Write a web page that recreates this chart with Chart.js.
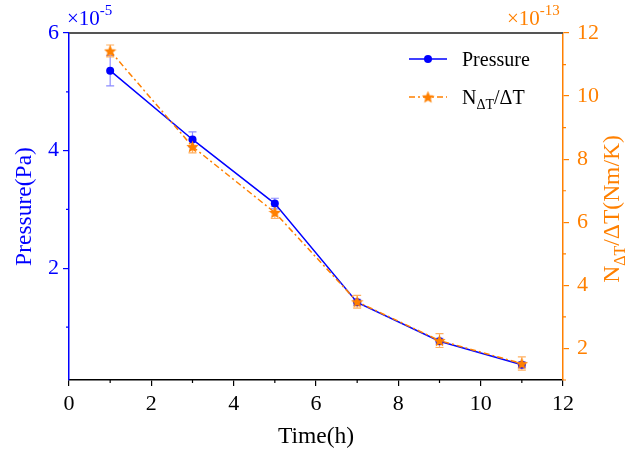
<!DOCTYPE html>
<html lang="en">
<head>
<meta charset="UTF-8">
<title>Pressure and torque rate vs time</title>
<script src="https://cdn.jsdelivr.net/npm/chart.js"></script>
<style>
  body { margin: 0; background: #fff; }
  #wrap { width: 642px; height: 453px; }
</style>
</head>
<body>
<div id="wrap"><canvas id="chart" width="642" height="453"></canvas></div>
<script>
// measurements, Pressure in 1e-5 Pa, torque rate in 1e-13 Nm/K
const timeHours = [1, 3, 5, 7, 9, 11];
const pressure = [5.36, 4.19, 3.10, 1.42, 0.76, 0.36];
const pressureErr = [0.26, 0.13, 0.09, 0.05, 0.05, 0.05];
const torqueRate = [11.43, 8.40, 6.31, 3.48, 2.25, 1.52];
const torqueRateErr = [0.19, 0.20, 0.19, 0.20, 0.22, 0.21];

const xTicks = [0, 2, 4, 6, 8, 10, 12];
const xMinorTicks = [1, 3, 5, 7, 9, 11];
const leftTicks = [2, 4, 6];
const leftMinorTicks = [1, 3, 5];
const rightTicks = [2, 4, 6, 8, 10, 12];
const rightMinorTicks = [1, 3, 5, 7, 9, 11];

const BLUE = '#0000ff';
const ORANGE = '#ff8000';
const FONT = '"Liberation Serif", "Times New Roman", serif';

// filled five point star used as point marker
function makeStar(size, color) {
    const c = document.createElement('canvas');
    c.width = size; c.height = size;
    const g = c.getContext('2d');
    const cx = size / 2, cy = size / 2 + 0.6, R = size / 2, r = R * 0.45;
    g.beginPath();
    for (let i = 0; i < 10; i++) {
        const rad = i % 2 ? r : R;
        const a = -Math.PI / 2 + i * Math.PI / 5;
        g.lineTo(cx + rad * Math.cos(a), cy + rad * Math.sin(a));
    }
    g.closePath();
    g.fillStyle = color;
    g.fill();
    return c;
}
const starMarker = makeStar(13, ORANGE);

// draws a run of text pieces (normal / subscript / superscript) from x
function drawRuns(ctx, x, y, runs, color) {
    ctx.fillStyle = color;
    ctx.textBaseline = 'alphabetic';
    ctx.textAlign = 'left';
    runs.forEach(r => {
        ctx.font = r.size + 'px ' + FONT;
        ctx.fillText(r.t, x, y + (r.dy || 0));
        x += ctx.measureText(r.t).width;
    });
}
function runsWidth(ctx, runs) {
    let w = 0;
    runs.forEach(r => {
        ctx.font = r.size + 'px ' + FONT;
        w += ctx.measureText(r.t).width;
    });
    return w;
}

const errorBars = {
    id: 'errorBars',
    beforeDatasetsDraw(chart) {
        const ctx = chart.ctx;
        chart.data.datasets.forEach((ds, i) => {
            if (!ds.errors) return;
            const meta = chart.getDatasetMeta(i);
            const yScale = chart.scales[ds.yAxisID];
            ctx.save();
            ctx.strokeStyle = ds.errorColor;
            ctx.lineWidth = 1.2;
            meta.data.forEach((pt, j) => {
                const v = ds.data[j].y, e = ds.errors[j];
                const y1 = yScale.getPixelForValue(v + e);
                const y2 = yScale.getPixelForValue(v - e);
                ctx.beginPath();
                ctx.moveTo(pt.x, y1); ctx.lineTo(pt.x, y2);
                ctx.moveTo(pt.x - 4, y1); ctx.lineTo(pt.x + 4, y1);
                ctx.moveTo(pt.x - 4, y2); ctx.lineTo(pt.x + 4, y2);
                ctx.stroke();
            });
            ctx.restore();
        });
    }
};

const decorations = {
    id: 'decorations',
    afterDraw(chart) {
        const ctx = chart.ctx;
        const area = chart.chartArea;
        const sx = chart.scales.x, sy = chart.scales.y, sy1 = chart.scales.y1;
        ctx.save();

        // top frame line
        ctx.strokeStyle = '#555';
        ctx.lineWidth = 2;
        ctx.beginPath();
        ctx.moveTo(area.left, area.top);
        ctx.lineTo(area.right, area.top);
        ctx.stroke();

        // minor ticks
        ctx.lineWidth = 1.2;
        ctx.strokeStyle = '#000';
        ctx.beginPath();
        xMinorTicks.forEach(v => {
            const px = sx.getPixelForValue(v);
            ctx.moveTo(px, area.bottom); ctx.lineTo(px, area.bottom + 3);
        });
        ctx.stroke();
        ctx.strokeStyle = BLUE;
        ctx.beginPath();
        leftMinorTicks.forEach(v => {
            const py = sy.getPixelForValue(v);
            ctx.moveTo(area.left, py); ctx.lineTo(area.left - 3, py);
        });
        ctx.stroke();
        ctx.strokeStyle = ORANGE;
        ctx.beginPath();
        rightMinorTicks.forEach(v => {
            const py = sy1.getPixelForValue(v);
            ctx.moveTo(area.right, py); ctx.lineTo(area.right + 3, py);
        });
        ctx.stroke();

        // axis multipliers
        drawRuns(ctx, 67, 25, [{t: '×10', size: 21}, {t: '-5', size: 15, dy: -10}], BLUE);
        drawRuns(ctx, 507, 25, [{t: '×10', size: 21}, {t: '-13', size: 15, dy: -10}], ORANGE);

        // right axis title, rotated
        const titleRuns = [
            {t: 'N', size: 23.5},
            {t: 'ΔT', size: 16, dy: 6},
            {t: '/ΔT(Nm/K)', size: 23.5}
        ];
        const tw = runsWidth(ctx, titleRuns);
        ctx.save();
        ctx.translate(619, 209);
        ctx.rotate(-Math.PI / 2);
        drawRuns(ctx, -tw / 2, 0, titleRuns, ORANGE);
        ctx.restore();

        // legend
        ctx.lineWidth = 1.5;
        ctx.strokeStyle = BLUE;
        ctx.beginPath();
        ctx.moveTo(409, 59); ctx.lineTo(447, 59);
        ctx.stroke();
        ctx.fillStyle = BLUE;
        ctx.beginPath();
        ctx.arc(428, 59, 4, 0, Math.PI * 2);
        ctx.fill();
        drawRuns(ctx, 462, 66, [{t: 'Pressure', size: 20}], '#000');

        ctx.strokeStyle = ORANGE;
        ctx.setLineDash([6, 3, 2, 3]);
        ctx.beginPath();
        ctx.moveTo(409, 97); ctx.lineTo(447, 97);
        ctx.stroke();
        ctx.setLineDash([]);
        ctx.drawImage(starMarker, 428 - 6.5, 97 - 6.5);
        drawRuns(ctx, 462, 104, [
            {t: 'N', size: 20},
            {t: 'ΔT', size: 14, dy: 5},
            {t: '/ΔT', size: 20}
        ], '#000');

        ctx.restore();
    }
};

const tickFont = {family: FONT, size: 22};

new Chart(document.getElementById('chart'), {
    type: 'line',
    data: {
        datasets: [
            {
                label: 'Pressure',
                data: timeHours.map((t, i) => ({x: t, y: pressure[i]})),
                yAxisID: 'y',
                borderColor: BLUE,
                backgroundColor: BLUE,
                borderWidth: 1.5,
                pointStyle: 'circle',
                pointRadius: 4,
                pointBorderWidth: 0,
                errors: pressureErr,
                errorColor: '#8c8cff',
                order: 2
            },
            {
                label: 'NΔT/ΔT',
                data: timeHours.map((t, i) => ({x: t, y: torqueRate[i]})),
                yAxisID: 'y1',
                borderColor: ORANGE,
                backgroundColor: ORANGE,
                borderWidth: 1.5,
                borderDash: [6, 3, 2, 3],
                pointStyle: starMarker,
                pointRadius: 6,
                errors: torqueRateErr,
                errorColor: '#ffb060',
                order: 1
            }
        ]
    },
    options: {
        responsive: false,
        animation: false,
        layout: {padding: {top: 33, left: 0, right: 0, bottom: 0}},
        plugins: {
            legend: {display: false},
            tooltip: {enabled: false}
        },
        scales: {
            x: {
                type: 'linear',
                position: 'bottom',
                min: 0,
                max: 12,
                afterBuildTicks: s => { s.ticks = xTicks.map(v => ({value: v})); },
                afterFit: s => { s.height = 73; },
                grid: {drawOnChartArea: false, drawTicks: true, tickLength: 6, color: '#000', lineWidth: 1.2},
                border: {color: '#000', width: 1.5},
                ticks: {color: '#000', font: tickFont, padding: 5, maxRotation: 0},
                title: {display: true, text: 'Time(h)', color: '#000',
                        font: {family: FONT, size: 23.5}, padding: {top: 0, bottom: 2}}
            },
            y: {
                type: 'linear',
                position: 'left',
                min: 0.1,
                max: 6,
                afterBuildTicks: s => { s.ticks = leftTicks.map(v => ({value: v})); },
                afterFit: s => { s.width = 69; },
                grid: {drawOnChartArea: false, drawTicks: true, tickLength: 6, color: BLUE, lineWidth: 1.2},
                border: {color: BLUE, width: 1.5},
                ticks: {color: BLUE, font: tickFont, padding: 4},
                title: {display: true, text: 'Pressure(Pa)', color: BLUE,
                        font: {family: FONT, size: 23.5}, padding: {top: 11, bottom: 0}}
            },
            y1: {
                type: 'linear',
                position: 'right',
                min: 1,
                max: 12,
                afterBuildTicks: s => { s.ticks = rightTicks.map(v => ({value: v})); },
                afterFit: s => { s.width = 79; },
                grid: {drawOnChartArea: false, drawTicks: true, tickLength: 6, color: ORANGE, lineWidth: 1.2},
                border: {color: ORANGE, width: 1.5},
                ticks: {color: ORANGE, font: tickFont, padding: 8}
            }
        }
    },
    plugins: [errorBars, decorations]
});
</script>
</body>
</html>
